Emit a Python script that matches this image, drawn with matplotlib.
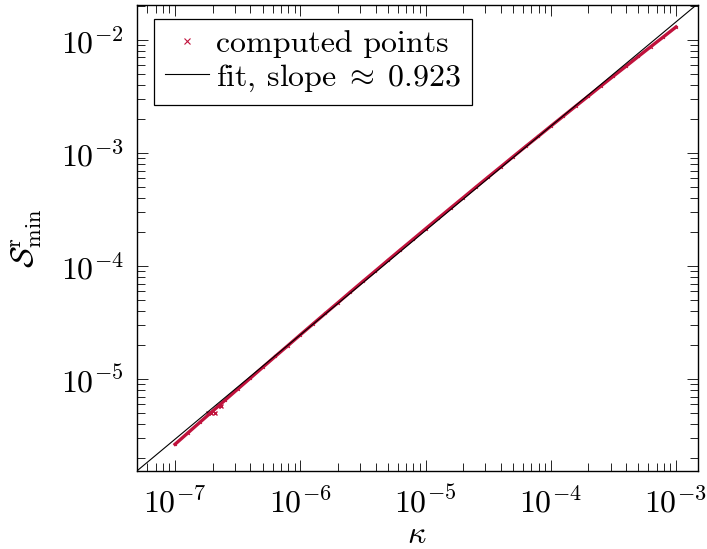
import numpy as np
import matplotlib
matplotlib.use("Agg")
import matplotlib.pyplot as plt
from matplotlib.ticker import LogLocator, NullFormatter

# log10 of kappa and of S^r_min
log_kappa = [-7.0, -6.9, -6.8, -6.7, -6.6, -6.5, -6.4, -6.3, -6.2, -6.1,
             -6.0, -5.9, -5.8, -5.7, -5.6, -5.5, -5.4, -5.3, -5.2, -5.1,
             -5.0, -4.9, -4.8, -4.7, -4.6, -4.5, -4.4, -4.3, -4.2, -4.1,
             -4.0, -3.9, -3.8, -3.7, -3.6, -3.5, -3.4, -3.3, -3.2, -3.1, -3.0]
log_smin = [-5.577, -5.479, -5.381, -5.284, -5.186, -5.089, -4.993, -4.896, -4.800, -4.705,
            -4.609, -4.514, -4.419, -4.325, -4.230, -4.136, -4.043, -3.949, -3.856, -3.764,
            -3.671, -3.579, -3.487, -3.396, -3.304, -3.213, -3.123, -3.032, -2.942, -2.853,
            -2.763, -2.674, -2.585, -2.497, -2.408, -2.320, -2.233, -2.145, -2.058, -1.972, -1.885]

# a few off-branch points near kappa ~ 2e-7
log_kappa_extra = [-6.74, -6.71, -6.68, -6.66, -6.63]
log_smin_extra = [-5.300, -5.300, -5.300, -5.240, -5.240]

fit_slope = 0.923
fit_intercept = 0.929

xlim = (10**-7.306, 10**-2.827)
ylim = (10**-5.814, 10**-1.69)

plt.rcParams['font.family'] = 'serif'
plt.rcParams['font.serif'] = ['cmr10']
plt.rcParams['mathtext.fontset'] = 'cm'
plt.rcParams['axes.formatter.use_mathtext'] = True
plt.rcParams['font.size'] = 23

red = '#c0123c'

kappa = 10**np.array(log_kappa)
smin = 10**np.array(log_smin)
kappa_x = 10**np.array(log_kappa_extra)
smin_x = 10**np.array(log_smin_extra)

fig = plt.figure(figsize=(7.07, 5.49), dpi=100)
ax = fig.add_axes([0.1934, 0.142, 0.7934, 0.849])

# the computed points are so dense in the original that they form a line
ax.plot(kappa, smin, color=red, lw=2.4, label='_nolegend_', zorder=2)
ax.plot(kappa, smin, ls='none', marker='x', ms=2, mew=0.8, color=red,
        label='computed points', zorder=2)
ax.plot(kappa_x, smin_x, ls='none', marker='x', ms=3, mew=1, color=red, zorder=2)

# fit line across the whole axis
fx = np.array(xlim)
fy = 10**(fit_slope * np.log10(fx) + fit_intercept)
ax.plot(fx, fy, color='black', lw=0.8, label=r'fit, slope$\;\approx\;$0.923', zorder=3)

ax.set_xscale('log')
ax.set_yscale('log')
ax.set_xlim(*xlim)
ax.set_ylim(*ylim)

for axis in (ax.xaxis, ax.yaxis):
    axis.set_major_locator(LogLocator(base=10, numticks=20))
    axis.set_minor_locator(LogLocator(base=10, subs=np.arange(2, 10), numticks=20))
    axis.set_minor_formatter(NullFormatter())

ax.tick_params(which='both', direction='in', top=True, right=True, width=0.6,
               labelsize=23)
ax.tick_params(which='major', length=8)
ax.tick_params(which='minor', length=5.5)
ax.tick_params(axis='x', which='major', pad=11)
ax.tick_params(axis='y', which='major', pad=9)
for sp in ax.spines.values():
    sp.set_linewidth(1.0)

ax.set_xlabel(r'$\kappa$')
ax.xaxis.set_label_coords(0.5, -0.108)
ax.set_ylabel(r'$\mathcal{S}^{\mathrm{r}}_{\min}$', labelpad=12)

leg = ax.legend(loc='upper left', bbox_to_anchor=(0.03, 0.97), borderaxespad=0,
                frameon=True, fancybox=False, edgecolor='black', framealpha=1,
                handlelength=1.4, handletextpad=0.2, borderpad=0.35, labelspacing=0.12,
                markerscale=2.2)
leg.get_frame().set_linewidth(0.9)

fig.savefig('out.png', dpi=100)
